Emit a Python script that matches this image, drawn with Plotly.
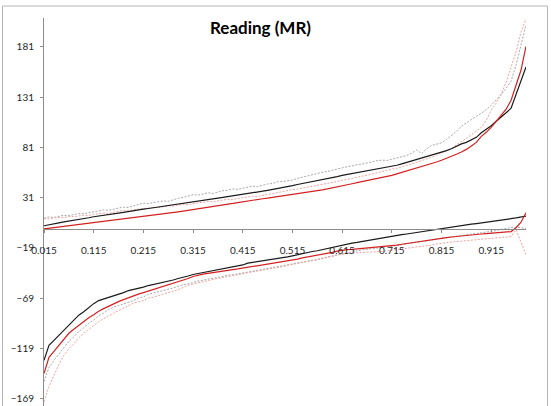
import plotly.graph_objects as go

# Percentile points (0.015 .. 0.985, step 0.01)
quantiles = [round(0.015 + 0.01 * i, 3) for i in range(98)]
tick_labels = ["0.015", "0.115", "0.215", "0.315", "0.415",
               "0.515", "0.615", "0.715", "0.815", "0.915"]
y_ticks = [-169, -119, -69, -19, 31, 81, 131, 181]

# Upper group
upper_black = [
    3.0, 4.2, 5.1, 5.9, 6.8, 7.5, 8.4, 9.2, 10.1, 11.0, 12.0,
    12.6, 13.4, 14.1, 14.9, 15.6, 16.4, 17.0, 17.9, 18.7, 19.5,
    20.2, 21.0, 21.6, 22.4, 23.3, 23.9, 24.6, 25.4, 26.2, 27.0,
    27.6, 28.5, 29.2, 29.8, 30.6, 31.3, 32.0, 32.6, 33.4, 34.2,
    35.0, 35.8, 36.7, 37.4, 38.3, 39.1, 40.0, 41.1, 42.0, 43.0,
    44.1, 45.0, 46.0, 47.0, 48.0, 49.1, 50.2, 51.0, 52.0, 53.2,
    54.1, 55.0, 55.8, 56.7, 57.4, 58.3, 59.0, 60.0, 61.0, 62.0,
    63.2, 64.6, 66.0, 67.5, 69.0, 70.2, 71.7, 73.2, 74.5, 76.0,
    77.8, 79.6, 82.0, 84.5, 86.0, 88.5, 91.0, 95.5, 99.0, 102.5,
    107.0, 111.0, 115.5, 120.0, 134.0, 146.0, 161.0,
]
upper_red = [
    0.0, 0.6, 1.2, 1.8, 2.5, 3.0, 3.6, 4.2, 4.9, 5.4, 6.0,
    6.6, 7.2, 7.7, 8.3, 8.9, 9.5, 10.1, 10.8, 11.4, 12.0,
    12.6, 13.4, 14.0, 14.7, 15.4, 16.0, 16.8, 17.5, 18.2, 19.0,
    19.7, 20.5, 21.3, 22.0, 22.8, 23.6, 24.4, 25.2, 26.1, 27.0,
    27.7, 28.5, 29.2, 29.9, 30.5, 31.2, 31.8, 32.6, 33.3, 34.0,
    34.8, 35.6, 36.3, 37.1, 38.0, 38.8, 39.7, 40.6, 41.8, 43.0,
    43.9, 44.8, 45.9, 46.9, 47.8, 48.8, 50.0, 51.0, 52.1, 53.2,
    54.6, 56.0, 57.4, 59.0, 60.4, 61.8, 63.4, 65.0, 66.5, 68.2,
    70.0, 72.0, 74.2, 76.5, 79.0, 82.5, 86.0, 92.0, 96.0, 101.0,
    107.0, 113.0, 119.0, 128.0, 142.0, 158.0, 181.5,
]
upper_gray = [
    10.5, 11.8, 11.2, 12.6, 13.5, 13.0, 14.4, 15.2, 15.0, 16.3, 17.0,
    17.6, 18.9, 18.4, 19.8, 20.6, 21.5, 21.2, 22.8, 24.4, 25.5,
    25.2, 25.9, 26.8, 27.7, 27.3, 28.9, 30.3, 31.2, 32.6, 34.0,
    33.5, 34.4, 35.8, 35.2, 36.6, 37.9, 38.4, 39.7, 39.2, 40.5,
    41.8, 42.4, 41.9, 43.5, 44.6, 45.1, 46.8, 47.2, 47.9, 48.5,
    50.1, 51.4, 52.0, 53.6, 55.3, 56.2, 57.0, 58.4, 59.1, 60.5,
    61.8, 62.5, 63.9, 64.4, 65.6, 66.2, 67.8, 68.3, 68.0, 69.2,
    70.5, 71.6, 73.0, 75.2, 78.4, 75.0, 79.6, 83.0, 84.2, 85.5,
    89.0, 93.0, 97.0, 102.0, 105.5, 108.5, 112.0, 115.0, 118.5, 123.0,
    128.0, 133.5, 140.0, 147.0, 163.0, 182.0, 203.0,
]
upper_pink = [
    10.2, 9.8, 11.0, 11.4, 11.1, 12.3, 12.0, 12.8, 13.6, 13.2, 14.5,
    15.0, 15.6, 15.3, 16.7, 17.4, 18.2, 17.9, 19.0, 19.6, 20.0,
    20.5, 21.2, 21.0, 22.0, 22.9, 22.6, 23.4, 24.2, 24.0, 25.1,
    25.9, 26.4, 27.1, 26.8, 28.0, 28.6, 29.3, 29.0, 30.2, 31.0,
    31.8, 32.4, 32.2, 33.5, 34.3, 35.0, 36.1, 37.0, 38.2, 39.0,
    39.6, 40.5, 41.2, 42.6, 43.4, 44.1, 45.0, 46.2, 47.0, 48.3,
    49.0, 50.1, 51.3, 52.0, 53.4, 54.5, 55.9, 57.0, 58.2, 59.4,
    60.2, 61.5, 63.0, 64.6, 66.2, 67.8, 69.0, 71.2, 73.4, 75.6,
    77.5, 80.0, 83.5, 86.5, 90.0, 93.5, 97.0, 101.0, 108.0, 118.0,
    125.0, 134.0, 146.0, 160.0, 176.0, 196.0, 209.0,
]

# Lower group
lower_black = [
    -131.0, -116.0, -111.0, -106.0, -101.0, -96.0, -91.5, -86.0, -82.5, -78.0, -74.5,
    -71.5, -70.0, -68.5, -66.5, -65.0, -63.5, -61.5, -60.5, -59.5, -58.0,
    -56.5, -55.5, -54.0, -53.0, -52.0, -51.0, -49.5, -48.5, -47.0, -45.5,
    -44.5, -43.8, -42.6, -41.5, -40.6, -39.8, -38.5, -37.4, -37.0, -36.0,
    -34.2, -33.5, -32.6, -32.0, -31.0, -30.2, -29.4, -28.6, -28.0, -27.0,
    -25.8, -25.0, -23.9, -22.6, -21.9, -20.7, -19.5, -18.6, -17.4, -16.2,
    -15.4, -14.2, -13.6, -12.7, -11.5, -10.8, -10.0, -9.3, -8.4, -7.5,
    -6.8, -5.9, -5.2, -4.4, -3.5, -2.9, -2.0, -1.3, -0.4, 0.5,
    1.1, 1.9, 2.6, 3.0, 3.8, 4.6, 5.2, 5.8, 6.5, 7.2,
    8.0, 8.6, 9.3, 10.1, 10.8, 11.6, 12.6,
]
lower_red = [
    -144.0, -128.0, -122.0, -116.0, -110.0, -104.0, -100.0, -96.0, -92.0, -88.5, -85.5,
    -82.0, -79.5, -77.0, -74.5, -72.5, -70.5, -68.5, -66.5, -65.0, -63.5,
    -62.0, -60.5, -59.0, -57.5, -56.0, -54.5, -53.0, -51.5, -49.5, -47.5,
    -46.0, -45.2, -44.4, -43.5, -42.6, -42.0, -41.2, -40.6, -40.0, -39.2,
    -38.5, -37.8, -37.0, -36.2, -35.5, -34.5, -33.8, -33.0, -32.0, -31.0,
    -30.2, -29.0, -28.2, -27.2, -26.5, -25.3, -24.6, -23.5, -22.2, -21.2,
    -20.8, -20.5, -20.0, -19.6, -19.2, -19.0, -18.6, -18.2, -17.6, -17.0,
    -16.2, -15.4, -14.6, -13.8, -13.2, -12.4, -11.6, -10.8, -10.0, -9.2,
    -8.8, -8.2, -7.6, -7.0, -6.5, -6.0, -5.6, -5.2, -4.8, -4.3,
    -4.0, -3.6, -3.2, -2.8, 1.0, 6.5, 16.0,
]
lower_gray = [
    -152.0, -138.0, -131.0, -124.5, -118.0, -112.0, -107.5, -102.0, -98.5, -94.0, -91.0,
    -86.5, -84.0, -80.5, -78.0, -76.5, -74.6, -72.8, -71.5, -69.0, -67.8,
    -65.2, -64.0, -62.5, -61.6, -59.8, -58.9, -57.2, -55.6, -55.0, -53.4,
    -52.0, -51.1, -50.4, -49.0, -48.3, -47.5, -46.2, -45.8, -44.9, -43.8,
    -43.1, -42.0, -41.4, -40.2, -39.6, -38.5, -37.9, -36.8, -36.2, -35.0,
    -34.1, -33.2, -32.5, -31.2, -30.5, -29.1, -28.0, -26.9, -25.8, -24.6,
    -23.8, -22.6, -21.9, -21.0, -20.4, -19.8, -19.2, -18.9, -18.0, -17.6,
    -16.8, -16.1, -15.0, -14.5, -13.6, -12.8, -12.1, -11.0, -10.2, -9.4,
    -8.8, -8.0, -7.1, -6.6, -5.9, -5.1, -4.6, -4.0, -3.5, -2.8,
    -1.8, -0.6, 0.4, 1.2, 1.6, 0.8, 0.3,
]
lower_pink = [
    -172.0, -157.0, -146.0, -135.0, -126.0, -119.5, -114.5, -108.5, -104.0, -100.0, -96.0,
    -92.5, -89.5, -86.5, -84.0, -81.5, -79.0, -76.5, -74.0, -72.6, -71.5,
    -69.0, -68.2, -66.5, -65.0, -63.8, -62.0, -60.6, -58.5, -56.2, -55.0,
    -53.8, -52.6, -51.9, -50.5, -49.3, -48.6, -47.5, -46.8, -45.5, -44.6,
    -43.8, -42.9, -42.1, -41.0, -40.1, -39.2, -38.3, -37.6, -36.4, -35.6,
    -34.5, -33.6, -32.8, -31.7, -30.8, -29.9, -28.6, -27.6, -26.2, -25.1,
    -24.6, -24.2, -23.8, -23.9, -23.4, -23.0, -22.8, -22.6, -22.0, -21.4,
    -20.8, -20.2, -19.6, -19.0, -18.2, -17.6, -16.9, -16.2, -15.1, -14.2,
    -13.8, -13.2, -12.6, -12.1, -11.6, -11.2, -10.9, -10.4, -10.0, -9.6,
    -9.2, -8.8, -8.2, -7.8, -1.0, -13.0, -26.0,
]

GRAY_DOT = dict(color="#a8a8a8", width=1, dash="2px,1.5px")
PINK_DOT = dict(color="#f0a2a2", width=1, dash="2px,1.5px")
BLACK = dict(color="#1a1a1a", width=1.2)
RED = dict(color="#d42020", width=1.2)

series = [
    (upper_gray, GRAY_DOT), (upper_pink, PINK_DOT),
    (lower_gray, GRAY_DOT), (lower_pink, PINK_DOT),
    (upper_black, BLACK), (upper_red, RED),
    (lower_black, BLACK), (lower_red, RED),
]

fig = go.Figure()
for values, line in series:
    fig.add_trace(go.Scatter(x=quantiles, y=values, mode="lines", line=line,
                             showlegend=False, hoverinfo="skip"))

y_min, y_max = -176.4, 209.8
axis_pos = (0 - y_min) / (y_max - y_min)

fig.update_layout(
    width=551, height=406,
    margin=dict(l=44, r=25, t=18, b=0),
    paper_bgcolor="white", plot_bgcolor="white",
    font=dict(family="Lato, 'Liberation Sans', sans-serif", size=10, color="#1f1f1f"),
    showlegend=False,
    xaxis=dict(
        range=[quantiles[0], quantiles[-1]],
        tickvals=quantiles[::10], ticktext=tick_labels,
        showgrid=False, zeroline=False,
        showline=True, linecolor="#8c8c8c", linewidth=1,
        ticks="outside", ticklen=3, tickcolor="#8c8c8c",
        anchor="free", position=axis_pos, ticklabelstandoff=9,
    ),
    yaxis=dict(
        range=[y_min, y_max],
        tickvals=y_ticks,
        showgrid=False, zeroline=False,
        showline=True, linecolor="#8c8c8c", linewidth=1,
        ticks="outside", ticklen=3, tickcolor="#8c8c8c",
        ticklabelstandoff=4,
    ),
    title=dict(
        text="<b>Reading (MR)</b>",
        x=260.5 / 551, xanchor="center", xref="container",
        y=1 - 28 / 406, yanchor="middle", yref="container",
        font=dict(family="Lato, 'Liberation Sans', sans-serif", size=17, color="#000000"),
    ),
    shapes=[dict(
        type="rect", xref="paper", yref="paper",
        x0=(2.5 - 44) / 482, x1=(547.5 - 44) / 482,
        y0=-0.05, y1=1 + 12 / 388,
        line=dict(color="#b4b4b4", width=1), fillcolor="rgba(0,0,0,0)",
        layer="below",
    )],
)

fig.write_html("out.html")
